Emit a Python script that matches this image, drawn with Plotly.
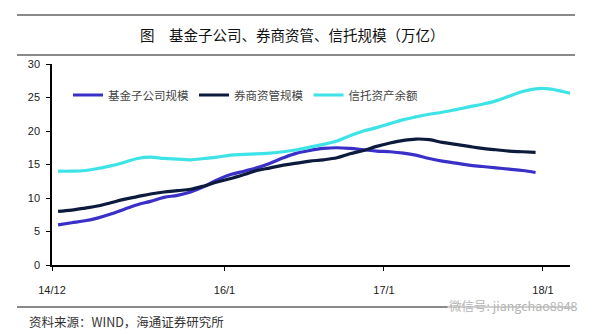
import pandas as pd
import plotly.graph_objects as go

# ---------------- data ----------------
months = pd.date_range("2014-12-01", "2018-03-01", freq="MS")
month_mid = [m + pd.Timedelta(days=14) for m in months]

fund_sub = [6.0, 6.3, 6.6, 7.0, 7.6, 8.3, 9.0, 9.5, 10.1, 10.4, 10.9, 11.7, 12.7,
            13.5, 14.0, 14.5, 15.2, 16.0, 16.7, 17.1, 17.4, 17.5, 17.4, 17.2, 17.0,
            16.9, 16.7, 16.4, 15.9, 15.5, 15.2, 14.9, 14.7, 14.5, 14.3, 14.1, 13.8]
broker_am = [8.0, 8.2, 8.5, 8.8, 9.3, 9.8, 10.2, 10.6, 10.9, 11.1, 11.3, 11.8, 12.4,
             12.9, 13.5, 14.1, 14.5, 14.9, 15.2, 15.5, 15.7, 16.0, 16.6, 17.1, 17.7,
             18.2, 18.6, 18.8, 18.7, 18.3, 18.0, 17.7, 17.4, 17.2, 17.0, 16.9, 16.8]
trust = [14.0, 14.0, 14.1, 14.4, 14.8, 15.3, 15.9, 16.1, 15.9, 15.8, 15.7, 15.9, 16.1,
         16.4, 16.5, 16.6, 16.7, 16.9, 17.2, 17.6, 18.0, 18.5, 19.3, 20.0, 20.5,
         21.1, 21.7, 22.1, 22.5, 22.8, 23.2, 23.6, 24.0, 24.5, 25.2, 25.9, 26.3,
         26.3, 25.9, 25.5]

series_names = ["基金子公司规模", "券商资管规模", "信托资产余额"]
series_values = [fund_sub, broker_am, trust]
series_colors = ["#3A30C8", "#0C1A3C", "#3DE3E6"]

tick_dates = ["2014-12-01", "2016-01-01", "2017-01-01", "2018-01-01"]
tick_labels = ["14/12", "16/1", "17/1", "18/1"]

title_text = "图　基金子公司、券商资管、信托规模（万亿）"
source_text = "资料来源：WIND，海通证券研究所"
watermark_text = "微信号: jiangchao8848"

# ---------------- layout helpers ----------------
W, H = 600, 334
L, R, T, B = 52, 30, 64, 69
PW, PH = W - L - R, H - T - B


def px_x(x):
    return (x - L) / PW


def px_y(y):
    return (H - B - y) / PH


fig = go.Figure()
for name, vals, col in zip(series_names, series_values, series_colors):
    fig.add_trace(go.Scatter(
        x=month_mid[:len(vals)], y=vals, name=name, mode="lines",
        line=dict(color=col, width=3.2, shape="spline", smoothing=1.0),
    ))

CJK = "Noto Sans CJK SC"

fig.update_layout(
    width=W, height=H,
    margin=dict(l=L, r=R, t=T, b=B),
    paper_bgcolor="white", plot_bgcolor="white",
    showlegend=True,
    legend=dict(
        orientation="h", x=px_x(68), y=px_y(95), xanchor="left", yanchor="middle",
        font=dict(family=CJK, size=11.5, color="#444"),
        bgcolor="rgba(0,0,0,0)", itemwidth=30, tracegroupgap=0,
    ),
    xaxis=dict(
        type="date",
        range=["2014-12-01", "2018-03-04"],
        tickvals=tick_dates, ticktext=tick_labels,
        showgrid=False, zeroline=False,
        showline=True, linecolor="black", linewidth=1.5,
        ticks="outside", ticklen=4, tickcolor="black", tickwidth=1.2,
        tickfont=dict(family="Arial, Liberation Sans", size=11, color="#222"),
        ticklabelstandoff=10,
    ),
    yaxis=dict(
        range=[0, 30], dtick=5,
        showgrid=False, zeroline=False,
        showline=True, linecolor="black", linewidth=1.5,
        ticks="outside", ticklen=4, tickcolor="black", tickwidth=1.2,
        tickfont=dict(family="Arial, Liberation Sans", size=11, color="#222"),
        ticklabelstandoff=4,
    ),
)

# title and horizontal rules
fig.add_annotation(text=title_text, xref="paper", yref="paper",
                   x=px_x(292), y=px_y(34), xanchor="center", yanchor="middle",
                   showarrow=False, font=dict(family=CJK, size=14.5, color="#111"))
for yy, x1 in [(15, 575), (55, 575), (307, 575)]:
    fig.add_shape(type="line", xref="paper", yref="paper",
                  x0=px_x(17), x1=px_x(x1), y0=px_y(yy), y1=px_y(yy),
                  line=dict(color="#8a8a8a", width=1.8))

fig.add_annotation(text=source_text, xref="paper", yref="paper",
                   x=px_x(27), y=px_y(321), xanchor="left", yanchor="middle",
                   showarrow=False, font=dict(family=CJK, size=12.5, color="#333"))

fig.add_annotation(text=watermark_text, xref="paper", yref="paper",
                   x=px_x(580), y=px_y(305), xanchor="right", yanchor="middle",
                   showarrow=False, bgcolor="rgba(255,255,255,0.6)",
                   font=dict(family=CJK, size=12.5, color="#b5b5b5"))

fig.write_html("out.html")
